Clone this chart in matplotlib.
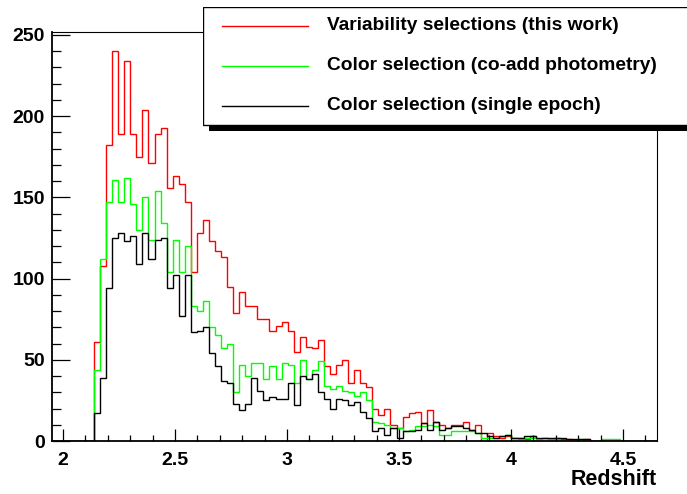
import numpy as np
import matplotlib
matplotlib.use("Agg")
import matplotlib.pyplot as plt
from matplotlib.patches import Rectangle
from matplotlib.ticker import MultipleLocator

plt.rcParams['font.family'] = ['Liberation Sans', 'DejaVu Sans']
plt.rcParams['font.weight'] = 'bold'

# histogram binning: 100 bins between 1.95 and 4.65
z_min, z_max, n_bins = 1.95, 4.65, 100

variability = [0, 0, 0, 0, 0, 0, 0,
               61, 108, 182, 240, 189, 234, 189, 175, 204, 171,
               189, 193, 156, 163, 158, 147, 104, 128, 136, 123,
               117, 113, 95, 79, 92, 83, 83, 75, 75, 68,
               71, 73, 68, 55, 64, 58, 57, 62, 46, 41,
               47, 50, 36, 44, 36, 33, 20, 16, 20, 10,
               8, 15, 17, 18, 11, 19, 12, 10, 8, 10,
               10, 12, 7, 10, 0, 5, 3, 2, 3, 2,
               2, 1, 3, 1, 2, 1, 2, 1, 1, 0,
               0, 1, 0, 0, 0, 0, 0, 0, 0, 0,
               0, 0, 0]

coadd = [0, 0, 0, 0, 0, 0, 0,
         44, 112, 147, 161, 147, 162, 146, 130, 150, 124,
         154, 134, 104, 124, 104, 120, 83, 80, 86, 70,
         65, 57, 60, 30, 47, 40, 48, 48, 38, 46,
         38, 48, 47, 36, 50, 38, 44, 49, 34, 32,
         34, 31, 30, 28, 30, 25, 12, 11, 10, 8,
         8, 6, 7, 9, 9, 10, 9, 4, 4, 6,
         6, 6, 6, 5, 2, 2, 2, 3, 4, 2,
         1, 2, 2, 1, 2, 1, 1, 0, 0, 0,
         1, 0, 0, 0, 1, 1, 1, 0, 0, 0,
         0, 0, 0]

single_epoch = [0, 0, 0, 0, 0, 0, 0,
                17, 39, 94, 125, 128, 123, 126, 109, 128, 112,
                124, 125, 94, 102, 77, 102, 67, 68, 70, 54,
                46, 37, 36, 23, 19, 23, 39, 31, 25, 27,
                26, 26, 36, 22, 40, 38, 41, 30, 26, 20,
                26, 25, 22, 24, 18, 14, 6, 8, 4, 8,
                2, 6, 6, 7, 11, 7, 12, 7, 8, 9,
                9, 8, 7, 5, 5, 3, 2, 3, 4, 2,
                2, 3, 3, 2, 2, 2, 2, 2, 1, 1,
                1, 1, 0, 0, 0, 0, 0, 0, 0, 0,
                0, 0, 0]

labels = ['Variability selections (this work)',
          'Color selection (co-add photometry)',
          'Color selection (single epoch)']
colors = ['#ff0000', '#00ff00', '#000000']
x_ticks = [2, 2.5, 3, 3.5, 4, 4.5]
x_ticklabels = ['2', '2.5', '3', '3.5', '4', '4.5']

W, H = 687, 494
fig = plt.figure(figsize=(W / 100, H / 100), dpi=100)
ax = fig.add_axes([51.7 / W, 1 - 441 / H, (656.7 - 51.7) / W, (441 - 31.7) / H])

edges = np.linspace(z_min, z_max, n_bins + 1)
for vals, c in zip([variability, coadd, single_epoch], colors):
    ax.stairs(vals, edges, baseline=0, color=c, linewidth=1.0)

ax.set_xlim(z_min, z_max)
ax.set_ylim(0, 1.05 * max(variability))
ax.set_xticks(x_ticks)
ax.set_xticklabels(x_ticklabels)
ax.xaxis.set_minor_locator(MultipleLocator(0.1))
ax.yaxis.set_major_locator(MultipleLocator(50))
ax.yaxis.set_minor_locator(MultipleLocator(10))
ax.tick_params(axis='both', which='both', direction='in', top=False, right=False,
               width=0.9, labelsize=14)
ax.tick_params(axis='y', which='major', length=13, pad=5)
ax.tick_params(axis='y', which='minor', length=6.5)
ax.tick_params(axis='x', which='major', length=8.5, pad=8)
ax.tick_params(axis='x', which='minor', length=4.3)
for side in ['left', 'bottom']:
    ax.spines[side].set_linewidth(1.3)
for side in ['top', 'right']:
    ax.spines[side].set_linewidth(0.8)
ax.set_xlabel('Redshift', loc='right', fontsize=15.5, fontweight='bold', labelpad=0)

# ROOT-like legend box with a shadow, running off the right edge
lx0, ly0 = 203.3, 7.3
lax = fig.add_axes([lx0 / W, 1 - 131 / H, (W - lx0) / W, (131 - ly0) / H])
lax.set_xlim(0, W - lx0)
lax.set_ylim(131 - ly0, 0)
lax.axis('off')
lax.add_patch(Rectangle((6, 6), 600, 118, facecolor='black', edgecolor='none'))
lax.add_patch(Rectangle((0, 0), 600, 117.7, facecolor='white', edgecolor='black', linewidth=1.0))
for i, (lab, c) in enumerate(zip(labels, colors)):
    yy = 18.7 + 40 * i
    lax.plot([19, 105], [yy, yy], color=c, linewidth=1.0)
    lax.text(124, yy, lab, fontsize=13.8, fontweight='bold', va='center', ha='left')

fig.savefig('out.png', dpi=100)
